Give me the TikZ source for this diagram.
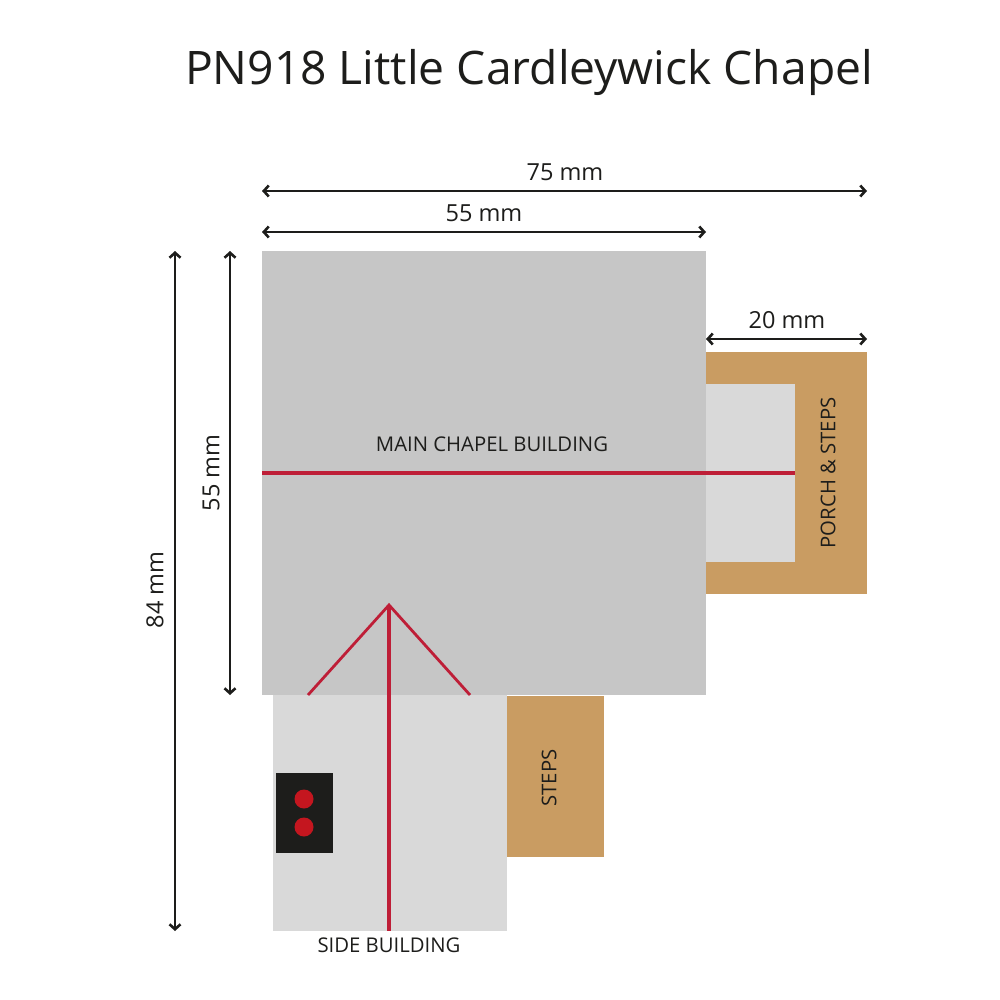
\documentclass[tikz,border=0pt]{standalone}
\usepackage{fontspec}
\setmainfont{Open Sans}
\usetikzlibrary{arrows.meta}
\definecolor{mainGrey}{HTML}{C6C6C6}
\definecolor{sideGrey}{HTML}{D9D9D9}
\definecolor{stepTan}{HTML}{C99C62}
\definecolor{lineRed}{HTML}{BE1E37}
\definecolor{dotRed}{HTML}{C4161F}
\definecolor{inkBlack}{HTML}{1D1D1B}
\tikzset{
  dimline/.style={draw=inkBlack, line width=2.6pt, {Straight Barb[length=5pt,width=11pt,line width=2.6pt]}-{Straight Barb[length=5pt,width=11pt,line width=2.6pt]}},
  redline/.style={draw=lineRed, line width=2.8pt},
  label/.style={text=inkBlack, inner sep=0pt, font=\fontsize{20.3}{25}\selectfont},
  dimlabel/.style={text=inkBlack, inner sep=0pt, font=\fontsize{23.5}{27}\selectfont},
}
\begin{document}
\begin{tikzpicture}[x=1pt, y=-1pt]
\useasboundingbox (0,0) rectangle (1000,1000);
\fill[white] (0,0) rectangle (1000,1000);

% Title
\node[anchor=center, inner sep=0pt, text=inkBlack, font=\fontsize{46.2}{56}\selectfont] (title) at (529,73) {PN918 Little Cardleywick Chapel};

% Building blocks
\fill[stepTan] (705,352) rectangle (867,594);
\fill[sideGrey] (705,384) rectangle (795,562);
\fill[mainGrey] (262,251) rectangle (706,695);
\fill[sideGrey] (273,695) rectangle (507,931);
\fill[stepTan] (507,696) rectangle (604,857);
\fill[inkBlack] (276,773) rectangle (333,853);
\fill[dotRed] (304,799) circle (9.5);
\fill[dotRed] (304,827) circle (9.5);

% Red lines
\coordinate (ridgeW) at (262,473);
\coordinate (ridgeE) at (795,473);
\coordinate (apex) at (389,605);
\coordinate (eaveL) at (308,695);
\coordinate (eaveR) at (470,695);
\coordinate (sideEnd) at (389,931);
\draw[redline, line width=3.8pt] (ridgeW) -- (ridgeE);
\draw[redline] (eaveL) -- (apex) -- (eaveR);
\draw[redline, line width=3.2pt] (apex) -- (sideEnd);

% Dimension arrows
\coordinate (topA) at (262,191);
\coordinate (topB) at (867,191);
\coordinate (midA) at (262,232);
\coordinate (midB) at (706,232);
\coordinate (porchA) at (706,339);
\coordinate (porchB) at (867,339);
\coordinate (tallA) at (175,251);
\coordinate (tallB) at (175,931);
\coordinate (mainA) at (230,251);
\coordinate (mainB) at (230,695);
\draw[dimline] (topA) -- (topB);
\draw[dimline] (midA) -- (midB);
\draw[dimline] (porchA) -- (porchB);
\draw[dimline] (tallA) -- (tallB);
\draw[dimline] (mainA) -- (mainB);

% Labels
\node[dimlabel] (dimTotal) at (565,172) {75 mm};
\node[dimlabel] (dimMain) at (484,213) {55 mm};
\node[dimlabel] (dimPorch) at (787,320) {20 mm};
\node[dimlabel, rotate=90] (dimDepth) at (211,473) {55 mm};
\node[dimlabel, rotate=90] (dimTall) at (155,590) {84 mm};
\node[label] (mainLabel) at (492,444) {MAIN CHAPEL BUILDING};
\node[label, rotate=90] (porchLabel) at (828,473) {PORCH \& STEPS};
\node[label, rotate=90] (stepsLabel) at (549,778) {STEPS};
\node[label] (sideLabel) at (389,945) {SIDE BUILDING};
\end{tikzpicture}
\end{document}
